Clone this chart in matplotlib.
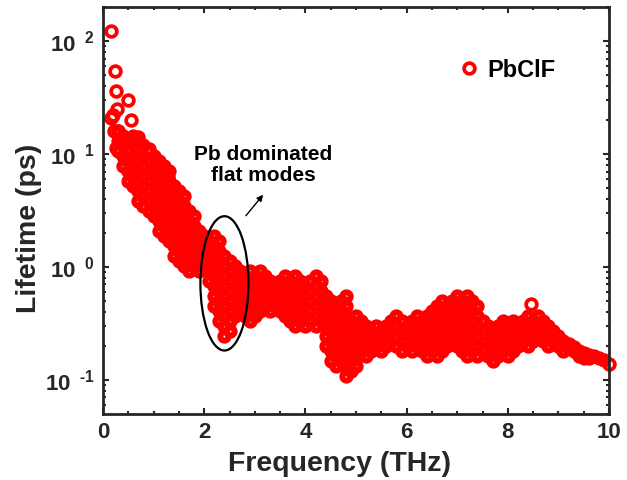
"""
PbClF phonon lifetime vs frequency
"""

import matplotlib
matplotlib.use("Agg")
import matplotlib.pyplot as plt
from matplotlib.patches import Ellipse
from matplotlib.ticker import FuncFormatter, LogLocator, MultipleLocator, NullFormatter
import numpy as np

plt.rcParams["font.family"] = ["Liberation Sans", "DejaVu Sans"]
plt.rcParams["font.weight"] = "bold"
plt.rcParams["mathtext.fontset"] = "custom"
plt.rcParams["mathtext.rm"] = "Liberation Sans:bold"
plt.rcParams["mathtext.bf"] = "Liberation Sans:bold"
plt.rcParams["mathtext.it"] = "Liberation Sans:bold"

# ----------------------------------------------------------------
# Data: lifetimes (ps) per frequency column (THz)
# ----------------------------------------------------------------

freq_1 = [0.3, 0.4, 0.5, 0.6, 0.7, 0.8, 0.9, 1.0, 1.1, 1.2, 1.3, 1.4,
          1.5, 1.6, 1.7, 1.8, 1.9, 2.0]
tau_1 = [
    [16.1, 13.1, 10.7],
    [14.5, 11.9, 9.66, 7.88],
    [13.1, 10.7, 8.72, 7.11, 5.80],
    [14.5, 11.9, 9.66, 7.88, 6.42, 5.23],
    [13.1, 10.7, 8.72, 7.11, 5.80, 4.72, 3.85],
    [11.9, 9.66, 7.88, 6.42, 5.23, 4.27, 3.48],
    [10.7, 8.72, 7.11, 5.80, 4.72, 3.85, 3.14],
    [9.66, 7.88, 6.42, 5.23, 4.27, 3.48, 2.84],
    [8.72, 7.11, 5.80, 4.72, 3.85, 3.14, 2.56, 2.09],
    [7.88, 6.42, 5.23, 4.27, 3.48, 2.84, 2.31, 1.88],
    [7.11, 5.80, 4.72, 3.85, 3.14, 2.56, 2.09, 1.70],
    [5.23, 4.27, 3.48, 2.84, 2.31, 1.88, 1.54, 1.25],
    [4.72, 3.85, 3.14, 2.56, 2.09, 1.70, 1.39, 1.13],
    [4.27, 3.48, 2.84, 2.31, 1.88, 1.54, 1.25, 1.02],
    [3.14, 2.56, 2.09, 1.70, 1.39, 1.13, 0.92],
    [2.84, 2.31, 1.88, 1.54, 1.25, 1.02],
    [2.09, 1.70, 1.39, 1.13, 0.92],
    [1.88, 1.54, 1.25, 1.02],
]

freq_2 = [2.1, 2.2, 2.3, 2.4, 2.5, 2.6, 2.7, 2.8, 2.9, 3.0, 3.1, 3.2,
          3.3, 3.4, 3.5, 3.6, 3.7, 3.8, 3.9, 4.0, 4.1, 4.2, 4.3]
tau_2 = [
    [1.70, 1.39, 1.13, 0.92, 0.75],
    [1.88, 1.54, 1.25, 1.02, 0.83, 0.68, 0.55, 0.45],
    [1.70, 1.39, 1.13, 0.92, 0.75, 0.61, 0.50, 0.41, 0.33],
    [1.25, 1.02, 0.83, 0.68, 0.55, 0.45, 0.37, 0.30, 0.244],
    [1.13, 0.92, 0.75, 0.61, 0.50, 0.41, 0.33, 0.27],
    [1.02, 0.83, 0.68, 0.55, 0.45, 0.37],
    [0.92, 0.75, 0.61, 0.50, 0.41],
    [0.83, 0.68, 0.55, 0.45, 0.37],
    [0.92, 0.75, 0.61, 0.50, 0.41, 0.33],
    [0.83, 0.68, 0.55, 0.45, 0.37],
    [0.92, 0.75, 0.61, 0.50, 0.41],
    [0.83, 0.68, 0.55, 0.45],
    [0.75, 0.61, 0.50, 0.41],
    [0.68, 0.55, 0.45],
    [0.75, 0.61, 0.50, 0.41],
    [0.83, 0.68, 0.55, 0.45, 0.37],
    [0.75, 0.61, 0.50, 0.41, 0.33],
    [0.83, 0.68, 0.55, 0.45, 0.37, 0.30],
    [0.75, 0.61, 0.50, 0.41, 0.33],
    [0.68, 0.55, 0.45, 0.37, 0.30],
    [0.75, 0.61, 0.50, 0.41, 0.33],
    [0.83, 0.68, 0.55, 0.45, 0.37, 0.30],
    [0.75, 0.61, 0.50, 0.41, 0.33],
]

freq_3 = [4.4, 4.5, 4.6, 4.7, 4.8, 4.9, 5.0, 5.1, 5.2, 5.3, 5.4, 5.5,
          5.6, 5.7, 5.8, 5.9, 6.0, 6.1, 6.2, 6.3, 6.4, 6.5, 6.6, 6.7,
          6.8, 6.9, 7.0, 7.1, 7.2, 7.3, 7.4]
tau_3 = [
    [0.55, 0.45, 0.37, 0.30, 0.244, 0.20],
    [0.50, 0.41, 0.33, 0.27, 0.22, 0.18, 0.147],
    [0.45, 0.37, 0.30, 0.244, 0.20, 0.162, 0.132],
    [0.50, 0.41, 0.33, 0.27, 0.22, 0.18, 0.147],
    [0.55, 0.45, 0.37, 0.30, 0.244, 0.20, 0.162, 0.132, 0.108],
    [0.33, 0.27, 0.22, 0.18, 0.147, 0.119],
    [0.37, 0.30, 0.244, 0.20, 0.162, 0.132],
    [0.33, 0.27, 0.22, 0.18],
    [0.30, 0.244, 0.20, 0.162],
    [0.27, 0.22, 0.18],
    [0.30, 0.244, 0.20],
    [0.27, 0.22, 0.18],
    [0.30, 0.244, 0.20],
    [0.33, 0.27, 0.22],
    [0.37, 0.30, 0.244, 0.20],
    [0.33, 0.27, 0.22, 0.18],
    [0.30, 0.244, 0.20],
    [0.33, 0.27, 0.22, 0.18],
    [0.37, 0.30, 0.244, 0.20],
    [0.33, 0.27, 0.22, 0.18],
    [0.37, 0.30, 0.244, 0.20, 0.162],
    [0.41, 0.33, 0.27, 0.22, 0.18],
    [0.45, 0.37, 0.30, 0.244, 0.20, 0.162],
    [0.50, 0.41, 0.33, 0.27, 0.22, 0.18],
    [0.45, 0.37, 0.30, 0.244, 0.20],
    [0.50, 0.41, 0.33, 0.27, 0.22],
    [0.55, 0.45, 0.37, 0.30, 0.244, 0.20],
    [0.50, 0.41, 0.33, 0.27, 0.22, 0.18],
    [0.55, 0.45, 0.37, 0.30, 0.244, 0.20, 0.162],
    [0.50, 0.41, 0.33, 0.27, 0.22, 0.18],
    [0.45, 0.37, 0.30, 0.244, 0.20, 0.162],
]

freq_4 = [7.5, 7.6, 7.7, 7.8, 7.9, 8.0, 8.1, 8.2, 8.3, 8.4, 8.5, 8.6,
          8.7, 8.8, 8.9, 9.0, 9.1, 9.2, 9.3, 9.4, 9.5, 9.6, 9.7, 9.8, 9.9]
tau_4 = [
    [0.33, 0.27, 0.22, 0.18],
    [0.30, 0.244, 0.20, 0.162],
    [0.27, 0.22, 0.18, 0.147],
    [0.30, 0.244, 0.20, 0.162],
    [0.33, 0.27, 0.22, 0.18],
    [0.30, 0.244, 0.20, 0.162],
    [0.33, 0.27, 0.22, 0.18],
    [0.30, 0.244, 0.20],
    [0.33, 0.27, 0.22],
    [0.37, 0.30, 0.244, 0.20],
    [0.33, 0.27, 0.22],
    [0.37, 0.30, 0.244],
    [0.33, 0.27, 0.22],
    [0.30, 0.244, 0.20],
    [0.27, 0.22],
    [0.244, 0.20],
    [0.22, 0.18],
    [0.21, 0.19],
    [0.195, 0.18],
    [0.18, 0.162],
    [0.175, 0.158],
    [0.165, 0.155],
    [0.163],
    [0.158],
    [0.150],
]

# isolated circles (low-frequency tail and a few outliers)
sparse_freq = [0.16, 0.24, 0.26, 0.50, 0.28, 0.55, 0.19, 0.16, 0.22,
               0.30, 0.26, 0.69, 0.91, 1.11, 1.28, 8.46, 8.00, 10.0]
sparse_tau = [122, 54, 36, 30, 25, 20, 22, 21, 16,
              16, 11.4, 14, 11.1, 8.2, 6.2, 0.47, 0.32, 0.138]

# ----------------------------------------------------------------
# Flatten columns into one point list
# ----------------------------------------------------------------

band_f = []
band_tau = []

for freqs, taus in [(freq_1, tau_1), (freq_2, tau_2), (freq_3, tau_3), (freq_4, tau_4)]:
    for f, col in zip(freqs, taus):
        for t in col:
            band_f.append(f)
            band_tau.append(t)

# ----------------------------------------------------------------
# Figure
# ----------------------------------------------------------------

dark = "#262626"
red = "#ff0000"

fig = plt.figure(figsize=(6.27, 4.8), dpi=100)
ax = fig.add_axes([103 / 627, 66 / 480, 506 / 627, 407 / 480])

# dense band: overlapping circles, thick rings so it reads solid
ax.plot(
    band_f,
    band_tau,
    linestyle="none",
    marker="o",
    markersize=6.0,
    markerfacecolor="none",
    markeredgecolor=red,
    markeredgewidth=4.3,
)

ax.plot(
    sparse_freq,
    sparse_tau,
    linestyle="none",
    marker="o",
    markersize=7.7,
    markerfacecolor="none",
    markeredgecolor=red,
    markeredgewidth=2.7,
    label="PbClF",
    clip_on=False,
)

ax.set_yscale("log")
ax.set_xlim(0, 10)
ax.set_ylim(0.05, 200)


def log_label(v, pos):
    e = int(round(np.log10(v)))
    if e < 0:
        return r"$10^{\ \ \text{-}%d}$" % abs(e)
    return r"$10^{\ \ %d}$" % e


ax.xaxis.set_major_locator(MultipleLocator(2))
ax.xaxis.set_minor_locator(MultipleLocator(0.5))
ax.yaxis.set_major_locator(LogLocator(base=10, numticks=10))
ax.yaxis.set_minor_locator(LogLocator(base=10, subs=np.arange(2, 10), numticks=20))
ax.yaxis.set_minor_formatter(NullFormatter())
ax.yaxis.set_major_formatter(FuncFormatter(log_label))

ax.tick_params(which="both", direction="in", top=True, right=True,
               colors=dark, width=1.5, labelsize=16)
ax.tick_params(which="major", length=4.5)
ax.tick_params(which="minor", length=2.5)
ax.tick_params(axis="x", pad=6)
ax.tick_params(axis="y", pad=6)

for spine in ax.spines.values():
    spine.set_linewidth(2.0)
    spine.set_color(dark)

ax.set_xlabel("Frequency (THz)", fontsize=20.5, fontweight="bold", color=dark, labelpad=5.5)
ax.set_ylabel("Lifetime (ps)", fontsize=20.5, fontweight="bold", color=dark, labelpad=2.5)
ax.xaxis.label.set_x(0.468)
ax.yaxis.label.set_y(0.455)

# ----------------------------------------------------------------
# Annotation
# ----------------------------------------------------------------

ax.add_patch(Ellipse((0.240, 0.321), 0.095, 0.330, transform=ax.transAxes,
                     fill=False, edgecolor="black", linewidth=1.6, zorder=5))

ax.annotate("", xy=(0.320, 0.544), xytext=(0.279, 0.482),
            xycoords="axes fraction", textcoords="axes fraction",
            arrowprops=dict(arrowstyle="-|>", color="black", lw=1.0,
                            mutation_scale=9))

ax.text(0.316, 0.611, "Pb dominated\nflat modes", transform=ax.transAxes,
        ha="center", va="center", multialignment="center",
        fontsize=15, fontweight="bold", linespacing=1.15)

ax.legend(loc="center left", bbox_to_anchor=(0.676, 0.845), frameon=False,
          fontsize=17, handlelength=1.0, handletextpad=0.3, borderpad=0.0)

fig.savefig("out.png", dpi=100)
